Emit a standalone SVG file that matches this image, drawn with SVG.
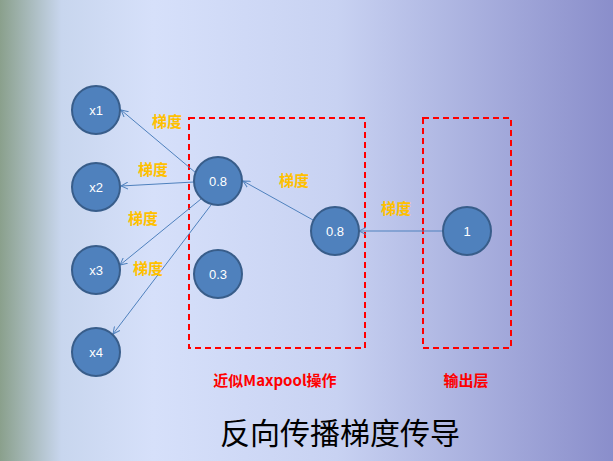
<svg xmlns="http://www.w3.org/2000/svg" width="613" height="461" viewBox="0 0 613 461">
<defs>
<linearGradient id="bg" x1="0" y1="0" x2="1" y2="0">
<stop offset="0" stop-color="#8aa08c"/>
<stop offset="0.1" stop-color="#c8d6ee"/>
<stop offset="0.25" stop-color="#d6e0fa"/>
<stop offset="0.55" stop-color="#c8d2f2"/>
<stop offset="1" stop-color="#8a8ecb"/>
</linearGradient>
<marker id="ah" markerWidth="8" markerHeight="8" refX="7" refY="4" orient="auto" markerUnits="userSpaceOnUse">
<path d="M0,0.5 L7,4 L0,7.5" fill="none" stroke="#4f81bd" stroke-width="1"/>
</marker>
<style>
.n{fill:#4f81bd;stroke:#385d8a;stroke-width:2}
.t{font-family:"Liberation Sans",sans-serif;font-size:13px;fill:#fff;text-anchor:middle}
.g{font-family:"Noto Sans CJK SC",sans-serif;font-size:15px;font-weight:bold;fill:#ffc000;text-anchor:middle}
.r{font-family:"Noto Sans CJK SC",sans-serif;font-size:15px;font-weight:bold;fill:#ff0000;text-anchor:middle}
.c{stroke:#4f81bd;stroke-width:1;fill:none;marker-end:url(#ah)}
.b{fill:none;stroke:#ff0000;stroke-width:2;stroke-dasharray:6,4}
</style>
</defs>
<rect width="613" height="461" fill="url(#bg)"/>
<rect class="b" x="189" y="118" width="176" height="230"/>
<rect class="b" x="423" y="118" width="88" height="230"/>
<g id="connectors">
<line class="c" x1="196" y1="173" x2="121" y2="110"/>
<line class="c" x1="194" y1="182" x2="121" y2="186"/>
<line class="c" x1="201" y1="199" x2="120" y2="265"/>
<line class="c" x1="211" y1="205" x2="113" y2="334"/>
<line class="c" x1="313" y1="220" x2="243" y2="181"/>
<line class="c" x1="443" y1="231" x2="359" y2="231"/>
</g>
<g id="x1"><circle class="n" cx="96" cy="110" r="24"/><text class="t" x="96" y="115">x1</text></g>
<g id="x2"><circle class="n" cx="96" cy="187" r="24"/><text class="t" x="96" y="192">x2</text></g>
<g id="x3"><circle class="n" cx="96" cy="270" r="24"/><text class="t" x="96" y="275">x3</text></g>
<g id="x4"><circle class="n" cx="96" cy="352" r="24"/><text class="t" x="96" y="357">x4</text></g>
<g id="p1"><circle class="n" cx="218" cy="181" r="24"/><text class="t" x="218" y="186">0.8</text></g>
<g id="p2"><circle class="n" cx="218" cy="274" r="24"/><text class="t" x="218" y="279">0.3</text></g>
<g id="m"><circle class="n" cx="335" cy="231" r="24"/><text class="t" x="335" y="236">0.8</text></g>
<g id="o"><circle class="n" cx="467" cy="231" r="24"/><text class="t" x="467" y="236">1</text></g>
<g id="labels">
<text class="g" x="167" y="127">梯度</text>
<text class="g" x="153" y="175">梯度</text>
<text class="g" x="143" y="224">梯度</text>
<text class="g" x="148" y="274">梯度</text>
<text class="g" x="294" y="186">梯度</text>
<text class="g" x="396" y="214">梯度</text>
<text class="r" x="275" y="386">近似Maxpool操作</text>
<text class="r" x="466" y="386">输出层</text>
<text x="340" y="444" font-family="Noto Sans CJK SC,sans-serif" font-size="30" text-anchor="middle" fill="#000">反向传播梯度传导</text>
</g>
</svg>
